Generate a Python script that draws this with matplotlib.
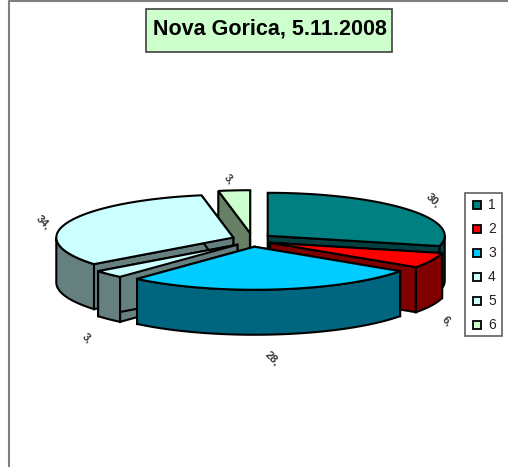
import numpy as np
import matplotlib
matplotlib.use('Agg')
import matplotlib.pyplot as plt
from matplotlib.patches import Polygon, Rectangle

title = 'Nova Gorica, 5.11.2008'
categories = ['1', '2', '3', '4', '5', '6']
values = [30, 6, 28, 3, 34, 3]
value_labels = ['30,', '6,', '28,', '3,', '34,', '3,']

top_colors = ['#008080', '#FF0000', '#00CCFF', '#CCFFFF', '#CCFFFF', '#CCFFCC']
side_colors = ['#004040', '#800000', '#006680', '#668080', '#668080', '#668066']
draw_order = [5, 0, 4, 3, 1, 2]

# pie geometry in pixels
cx, cy = 252., 240.
rx, ry = 177., 43.
depth = 45.
explode = 20.
label_xy = [(433, 200), (447, 321), (272, 358), (87, 338), (43, 222), (229, 179)]

plt.rc('font', family=['Liberation Sans', 'DejaVu Sans'])
fig = plt.figure(figsize=(5.08, 4.67), dpi=100)
ax = fig.add_axes([0, 0, 1, 1])
ax.set_xlim(0, 508)
ax.set_ylim(467, 0)
ax.axis('off')

# outer frame
ax.plot([9, 9, 508], [467, 1, 1], color='#808080', lw=1.5)


def ring_point(ang, ox, oy):
    return ox + rx*np.sin(ang), oy - ry*np.cos(ang)


edges = np.cumsum([0] + values) / float(sum(values)) * 2*np.pi

for i in draw_order:
    a0, a1 = edges[i], edges[i+1]
    mid = 0.5*(a0 + a1)
    ox = cx + explode*np.sin(mid)
    oy = cy - explode*ry/rx*np.cos(mid)*1.4

    ang = np.linspace(a0, a1, 60)
    xs, ys = ring_point(ang, ox, oy)

    # the two cut faces
    for a in [a0, a1]:
        px, py = ring_point(a, ox, oy)
        ax.add_patch(Polygon([(ox, oy), (px, py), (px, py+depth), (ox, oy+depth)],
                             closed=True, fc=side_colors[i], ec='k', lw=1.5))

    # outer wall, only the part that faces the viewer
    front = np.cos(ang) <= 0.02
    if front.sum() > 1:
        fx, fy = xs[front], ys[front]
        wall = list(zip(fx, fy)) + list(zip(fx[::-1], fy[::-1]+depth))
        ax.add_patch(Polygon(wall, closed=True, fc=side_colors[i], ec='k', lw=1.5))

    top = [(ox, oy)] + list(zip(xs, ys))
    ax.add_patch(Polygon(top, closed=True, fc=top_colors[i], ec='k', lw=1.5))

for lab, (lx, ly) in zip(value_labels, label_xy):
    ax.text(lx, ly, lab, fontsize=8, fontweight='bold', rotation=-45,
            ha='center', va='center', color='#333333')

# title box
ax.add_patch(Rectangle((146, 9), 246, 43, fc='#CCFFCC', ec='#404040', lw=1.2))
ax.text(270, 29, title, fontsize=15.5, fontweight='bold', ha='center', va='center', color='k')

# legend
ax.add_patch(Rectangle((465, 193), 37, 143, fc='white', ec='#606060', lw=1.2))
for j, name in enumerate(categories):
    y = 205 + 24*j
    ax.add_patch(Rectangle((473, y-4), 8, 8, fc=top_colors[j], ec='k', lw=1.3))
    ax.text(488, y, name, fontsize=10, ha='left', va='center', color='#222222')

fig.savefig('out.png', dpi=100)
